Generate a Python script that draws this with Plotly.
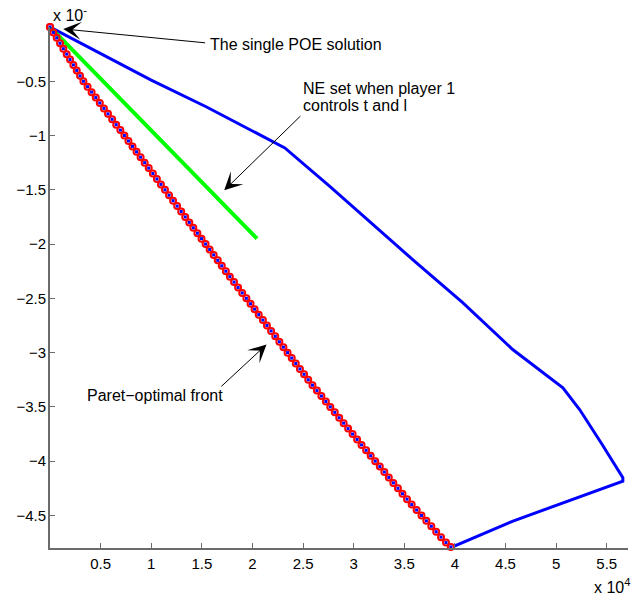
import plotly.graph_objects as go

# ---- data (x in units of 1e4) ----
front_x = [0.000, 0.033, 0.066, 0.099, 0.132, 0.165, 0.198, 0.231, 0.264, 0.297,
           0.330, 0.371, 0.411, 0.452, 0.492, 0.533, 0.573, 0.614, 0.654, 0.695,
           0.735, 0.775, 0.815, 0.855, 0.895, 0.935, 0.975, 1.016, 1.056, 1.096,
           1.136, 1.176, 1.216, 1.256, 1.296, 1.336, 1.376, 1.416, 1.456, 1.497,
           1.537, 1.577, 1.617, 1.657, 1.697, 1.737, 1.777, 1.818, 1.858, 1.899,
           1.940, 1.981, 2.021, 2.062, 2.103, 2.143, 2.184, 2.225, 2.266, 2.306,
           2.347, 2.388, 2.428, 2.469, 2.510, 2.551, 2.593, 2.637, 2.681, 2.725,
           2.769, 2.813, 2.857, 2.901, 2.945, 2.989, 3.034, 3.078, 3.123, 3.168,
           3.213, 3.258, 3.303, 3.347, 3.392, 3.437, 3.482, 3.527, 3.573, 3.622,
           3.670, 3.718, 3.767, 3.815, 3.863, 3.912, 3.960]
front_y = [0.00, -0.05, -0.10, -0.15, -0.20, -0.25, -0.30, -0.35, -0.40, -0.45,
           -0.50, -0.55, -0.60, -0.65, -0.70, -0.75, -0.80, -0.85, -0.90, -0.95,
           -1.00, -1.05, -1.10, -1.15, -1.20, -1.25, -1.30, -1.35, -1.40, -1.45,
           -1.50, -1.55, -1.60, -1.65, -1.70, -1.75, -1.80, -1.85, -1.90, -1.95,
           -2.00, -2.05, -2.10, -2.15, -2.20, -2.25, -2.30, -2.35, -2.40, -2.45,
           -2.50, -2.55, -2.60, -2.65, -2.70, -2.75, -2.80, -2.85, -2.90, -2.95,
           -3.00, -3.05, -3.10, -3.15, -3.20, -3.25, -3.30, -3.35, -3.40, -3.45,
           -3.50, -3.55, -3.60, -3.65, -3.70, -3.75, -3.80, -3.85, -3.90, -3.95,
           -4.00, -4.05, -4.10, -4.15, -4.20, -4.25, -4.30, -4.35, -4.40, -4.45,
           -4.50, -4.55, -4.60, -4.65, -4.70, -4.75, -4.79]

ne_set_x = [0.0, 0.50, 1.00, 1.547, 2.00, 2.32, 2.764, 3.20, 3.583, 4.077, 4.571,
            5.067, 5.232, 5.45, 5.659, 5.659, 5.10, 4.574, 3.981]
ne_set_y = [0.0, -0.245, -0.49, -0.737, -0.955, -1.114, -1.468, -1.83, -2.143, -2.539,
            -2.971, -3.324, -3.524, -3.84, -4.153, -4.184, -4.37, -4.552, -4.788]

ne_p1_x = [0.0, 2.045]
ne_p1_y = [0.0, -1.95]

poe_x = [0.0]
poe_y = [0.0]

x_ticks = [0.5, 1, 1.5, 2, 2.5, 3, 3.5, 4, 4.5, 5, 5.5]
y_ticks = [-0.5, -1, -1.5, -2, -2.5, -3, -3.5, -4, -4.5]

X_RANGE = [0, 5.71]
Y_RANGE = [-4.8, 0]

FONT = "Liberation Sans, Arial, Helvetica, sans-serif"

fig = go.Figure()
fig.add_trace(go.Scatter(x=ne_set_x, y=ne_set_y, mode="lines",
                         line=dict(color="#0000ff", width=3), cliponaxis=False))
fig.add_trace(go.Scatter(x=ne_p1_x, y=ne_p1_y, mode="lines",
                         line=dict(color="#00ff00", width=4), cliponaxis=False))
fig.add_trace(go.Scatter(x=front_x, y=front_y, mode="markers",
                         marker=dict(symbol="circle-open", size=6, color="#ff0000",
                                     line=dict(width=2, color="#ff0000")),
                         cliponaxis=False))
fig.add_trace(go.Scatter(x=front_x, y=front_y, mode="markers",
                         marker=dict(symbol="square", size=3, color="#0000ff",
                                     line=dict(width=0)),
                         cliponaxis=False))
fig.add_trace(go.Scatter(x=poe_x, y=poe_y, mode="markers",
                         marker=dict(symbol="circle-open", size=7, color="#ff0000",
                                     line=dict(width=1.2, color="#ff0000")),
                         cliponaxis=False))
# invisible carrier so the label-only y axis is drawn
fig.add_trace(go.Scatter(x=poe_x, y=poe_y, yaxis="y2", mode="markers",
                         marker=dict(size=1, opacity=0), hoverinfo="skip"))

arrows = [
    # (tip_x, tip_y, tail_x, tail_y)
    (0.131, -0.018, 1.547, -0.147),
    (1.721, -1.505, 2.488, -0.808),
    (2.139, -2.925, 1.678, -3.324),
]
for tx, ty, sx, sy in arrows:
    fig.add_annotation(x=tx, y=ty, ax=sx, ay=sy, xref="x", yref="y",
                       axref="x", ayref="y", text="", showarrow=True,
                       arrowhead=3, arrowsize=3, arrowwidth=1,
                       arrowcolor="#000000", standoff=0, startstandoff=0)

labels = [
    ("The single POE solution", 1.561, -0.163),
    ("NE set when player 1", 2.478, -0.562),
    ("controls t and l", 2.478, -0.725),
    ("Paret\u2212optimal front", 0.346, -3.397),
]
for txt, lx, ly in labels:
    fig.add_annotation(x=lx, y=ly, xref="x", yref="y", text=txt, showarrow=False,
                       xanchor="left", yanchor="middle",
                       font=dict(family=FONT, size=16, color="#000000"))

fig.add_annotation(x=0.937, y=-0.072, xref="paper", yref="paper",
                   text="x 10<sup>4</sup>", showarrow=False,
                   xanchor="left", yanchor="middle",
                   font=dict(family=FONT, size=16, color="#000000"))
fig.add_annotation(x=0.002, y=1.024, xref="paper", yref="paper",
                   text="x 10<sup>-</sup>", showarrow=False,
                   xanchor="left", yanchor="middle",
                   font=dict(family=FONT, size=16, color="#000000"))

tickfont = dict(family=FONT, size=15, color="#000000")

fig.update_layout(
    width=640, height=598, showlegend=False,
    margin=dict(l=50, r=12, t=27, b=50),
    paper_bgcolor="white", plot_bgcolor="white",
    font=dict(family=FONT, size=14, color="#000000"),
    xaxis=dict(range=X_RANGE, tickvals=x_ticks, showgrid=False, zeroline=False,
               showline=True, automargin=False, linecolor="#6b6b6b", linewidth=1.5,
               ticks="inside", ticklen=5, tickcolor="#6b6b6b", tickwidth=1,
               tickfont=tickfont, ticklabelstandoff=1),
    yaxis=dict(range=Y_RANGE, tickvals=y_ticks, showgrid=False, zeroline=False,
               showline=True, automargin=False, linecolor="#6b6b6b", linewidth=1.5,
               ticks="inside", ticklen=5, tickcolor="#6b6b6b", tickwidth=1,
               showticklabels=False),
    # label-only copy of the y axis, placed so labels sit close to the axis line
    yaxis2=dict(range=Y_RANGE, tickvals=y_ticks, overlaying="y",
                anchor="free", position=0, side="left", showgrid=False,
                zeroline=False, showline=False, automargin=False, ticks="",
                tickfont=tickfont, ticklabelstandoff=4),
)

fig.write_html("out.html",
               config={"displayModeBar": False},
               post_script="document.body.style.margin='0';document.body.style.overflow='hidden';")
